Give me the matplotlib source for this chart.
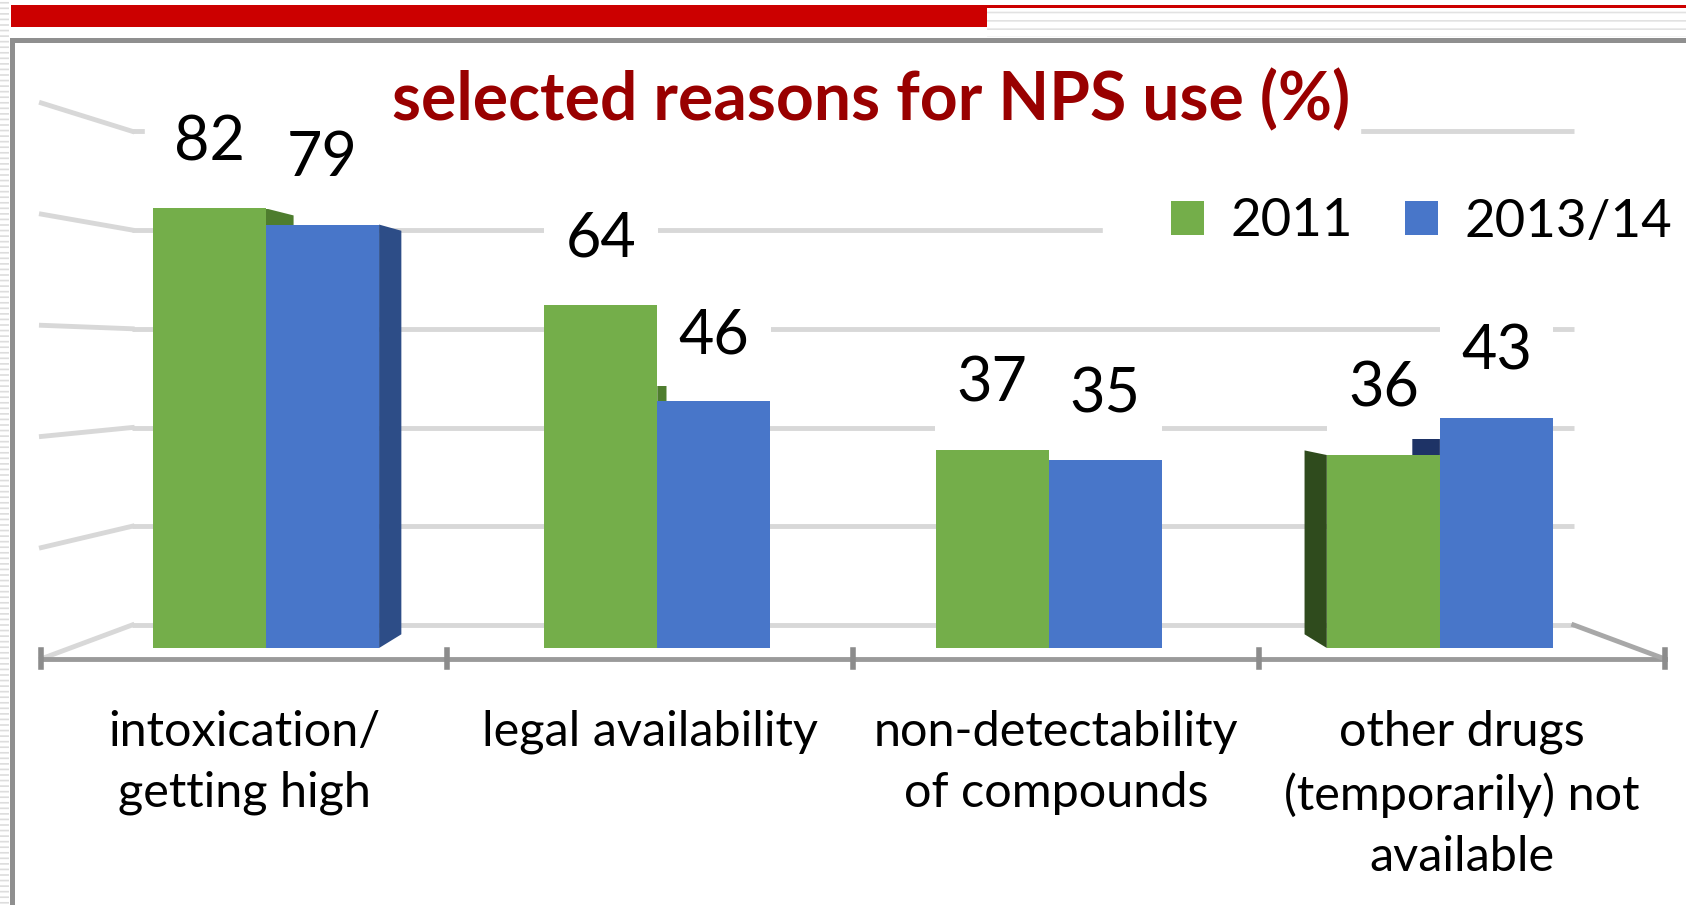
import numpy as np
import matplotlib.pyplot as plt
from matplotlib.patches import Rectangle

# data
categories = ['intoxication/\ngetting high', 'legal availability',
              'non-detectability\nof compounds', 'other drugs\n(temporarily) not\navailable']
years = ['2011', '2013/14']
values_2011 = [82, 64, 37, 36]
values_2013 = [79, 46, 35, 43]
grid_values = [0, 20, 40, 60, 80, 100]

title = 'selected reasons for NPS use (%)'

FONT = ['Lato', 'DejaVu Sans']
GREEN, BLUE = '#74AE4A', '#4876C9'
GREEN_R, BLUE_R = '#4E7D2E', '#2D4D87'   # right side faces
GREEN_L, BLUE_L = '#2F4B1D', '#1E3366'   # left side faces

# simple perspective: vanishing point and depth factors
VX, VY = 1.5, 54.4
KF, KB, KW = 1.037, 0.953, 0.921   # floor front, bar back, back wall


def persp(x, y, k):
    return VX + k * (np.asarray(x, float) - VX), VY + k * (np.asarray(y, float) - VY)


W, H = 1686, 905
fig = plt.figure(figsize=(W / 100, H / 100), dpi=100)
ax = fig.add_axes([0, 0, 1, 1])
ax.set_xlim(-266 / 391.3, (W - 266) / 391.3)
ax.set_ylim((648 - H) / 5.36, 648 / 5.36)
ax.axis('off')

x = np.arange(len(categories))
w = 0.289

# back wall + left wall gridlines
for g in grid_values:
    (x0, x1), (y0, y1) = persp([-0.5, 3.5], [g, g], KW)
    ax.plot([x0, x1], [y0, y1], color='#d8d8d8', lw=3.5, zorder=1, solid_capstyle='butt')
    (xa, xb), (ya, yb) = persp([-0.5, -0.5], [g, g], np.array([KF, KW]))
    ax.plot([xa, xb], [ya, yb], color='#d8d8d8', lw=3.5, zorder=1)

# floor front edge, right edge and ticks
(fx0, fx1), (fy0, fy1) = persp([-0.5, 3.5], [0, 0], KF)
ax.plot([fx0, fx1], [fy0, fy1], color='#9a9a9a', lw=3.5, zorder=1.5)
rx, ry = persp([3.5, 3.5], [0, 0], np.array([KW, KF]))
ax.plot(rx, ry, color='#a8a8a8', lw=3.5, zorder=1.5)
for b in np.arange(len(categories) + 1) - 0.5:
    tx, ty = persp(b, 0, KF)
    ax.plot([tx, tx], [ty - 1.6, ty + 1.6], color='#8c8c8c', lw=4, zorder=1.6)

# white panels behind title and legend
ax.add_patch(Rectangle((-0.309, 92.9), 3.105, 16.8, color='white', zorder=1.8))
ax.add_patch(Rectangle((2.139, 63.1), 1.6, 31.7, color='white', zorder=1.8))


def sides(xl, xr, v, cr, cl):
    if xr < VX - 0.4:
        bx, by = persp([xr, xr], [v, 0], KB)
        ax.fill([xr, xr, bx[0], bx[1]], [0, v, by[0], by[1]], color=cr, lw=0, zorder=2.5)
    if xl > VX + 0.5:
        bx, by = persp([xl, xl], [v, 0], KB)
        ax.fill([xl, xl, bx[0], bx[1]], [0, v, by[0], by[1]], color=cl, lw=0, zorder=2.5)


for i in range(len(categories)):
    sides(x[i] - w, x[i], values_2011[i], GREEN_R, GREEN_L)
    sides(x[i], x[i] + w, values_2013[i], BLUE_R, BLUE_L)

b1 = ax.bar(x - w / 2, values_2011, w, color=GREEN, lw=0, zorder=3, label=years[0])
b2 = ax.bar(x + w / 2, values_2013, w, color=BLUE, lw=0, zorder=3, label=years[1])

# value labels
for bars, vals in ((b1, values_2011), (b2, values_2013)):
    for r, v in zip(bars, vals):
        ax.text(r.get_x() + r.get_width() / 2, v + 9, str(v), ha='center', va='baseline',
                fontsize=44, family=FONT, color='black', zorder=5,
                bbox=dict(boxstyle='square,pad=0.35', fc='white', ec='none'))

# category labels along the front edge
for i, c in enumerate(categories):
    cx, _ = persp(i, 0, KF)
    ax.text(cx, -11.5, c, ha='center', va='top', fontsize=35, family=FONT,
            linespacing=1.48, zorder=5)

fig.text(871 / W, 1 - 120 / H, title, ha='center', va='baseline', fontsize=47.5,
         fontweight='bold', family=FONT, color='#990000', zorder=6)

ax.legend(handles=[b1, b2], labels=years, ncol=2, loc='center left',
          bbox_to_anchor=(1171 / W, 1 - 222 / H), bbox_transform=fig.transFigure,
          frameon=False, prop={'family': FONT, 'size': 38},
          handlelength=0.63, handleheight=0.63, handletextpad=0.5,
          columnspacing=0.98, borderpad=0, borderaxespad=0)

# slide frame decoration
def fr(x0, y0, x1, y1, **kw):
    fig.patches.append(Rectangle((x0 / W, 1 - y1 / H), (x1 - x0) / W, (y1 - y0) / H,
                                 transform=fig.transFigure, **kw))

plt.rcParams['hatch.linewidth'] = 1.2
fr(0, 0, 9, H, fc='white', ec='#dddddd', hatch='---', lw=0)
fr(987, 9, W, 37, fc='white', ec='#e2e2e2', hatch='--', lw=0)
fr(11, 5, 987, 27, color='#CC0000', lw=0)
fr(987, 5, W, 8, color='#CC0000', lw=0)
fr(10, 38, W, 43, color='#8f8f8f', lw=0)
fr(10, 38, 14.5, H, color='#8f8f8f', lw=0)

fig.savefig('out.png', dpi=100)
